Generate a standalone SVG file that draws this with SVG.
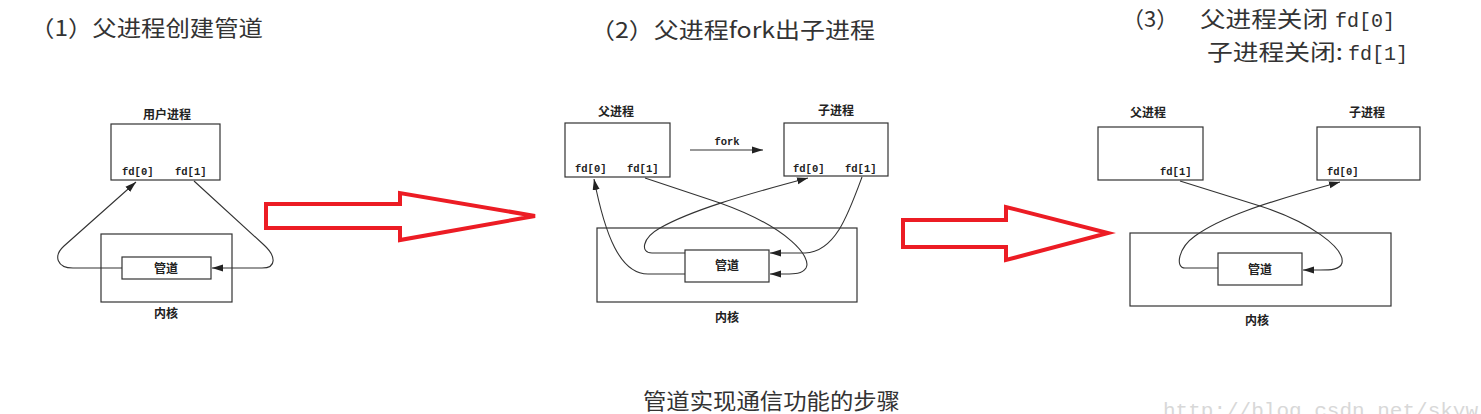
<svg xmlns="http://www.w3.org/2000/svg" width="1481" height="414" viewBox="0 0 1481 414">
<style>
.title{font-family:"Noto Sans CJK SC","Noto Sans",sans-serif;font-size:22px;fill:#333}
.mono{font-family:"Liberation Mono",monospace;font-size:20px;fill:#333}
.lbl{font-family:"Noto Sans CJK SC",sans-serif;font-size:12px;fill:#222;text-anchor:middle;font-weight:bold}
.fd{font-family:"Liberation Mono",monospace;font-size:10.5px;fill:#222;font-weight:bold}
.box{fill:none;stroke:#333;stroke-width:1.2}
.wire{fill:none;stroke:#333;stroke-width:1.1}
.red{fill:none;stroke:#ec1c24;stroke-width:4;stroke-linejoin:miter}
.wm{font-family:"Liberation Mono",monospace;font-size:21px;fill:#d8d8d8}
</style>
<defs>
<marker id="ah" markerUnits="userSpaceOnUse" markerWidth="12" markerHeight="8" refX="11" refY="4" orient="auto">
<path d="M0,0.5 L11,4 L0,7.5 z" fill="#222"/>
</marker>
</defs>

<text class="title" x="30" y="36" textLength="233" lengthAdjust="spacingAndGlyphs">（1）父进程创建管道</text>
<text class="title" x="590" y="38" textLength="285" lengthAdjust="spacingAndGlyphs">（2）父进程fork出子进程</text>
<text class="title" x="1122" y="27">（3）</text>
<text class="title" x="1200" y="27" textLength="128" lengthAdjust="spacingAndGlyphs">父进程关闭</text>
<text class="mono" x="1335" y="27" textLength="60" lengthAdjust="spacingAndGlyphs">fd[0]</text>
<text class="title" x="1207" y="60" textLength="136" lengthAdjust="spacingAndGlyphs">子进程关闭:</text>
<text class="mono" x="1348" y="60" textLength="60" lengthAdjust="spacingAndGlyphs">fd[1]</text>
<text class="title" x="643" y="409" textLength="257" lengthAdjust="spacingAndGlyphs">管道实现通信功能的步骤</text>
<text class="wm" x="1163" y="417">http://blog.csdn.net/skyw</text>

<!-- Diagram 1 -->
<g id="user-process">
<text class="lbl" x="167" y="119">用户进程</text>
<rect class="box" x="111" y="124" width="109" height="56"/>
<text class="fd" x="122" y="175">fd[0]</text>
<text class="fd" x="175" y="175">fd[1]</text>
</g>
<g id="kernel1">
<rect class="box" x="101" y="234" width="131" height="68"/>
<text class="lbl" x="166" y="318">内核</text>
</g>
<g id="pipe1">
<rect class="box" x="122" y="257" width="89" height="22"/>
<text class="lbl" x="166" y="273">管道</text>
</g>

<!-- Diagram 2 -->
<g id="parent2">
<text class="lbl" x="616" y="116">父进程</text>
<rect class="box" x="565" y="123" width="105" height="54"/>
<text class="fd" x="575" y="172">fd[0]</text>
<text class="fd" x="627" y="172">fd[1]</text>
</g>
<g id="child2">
<text class="lbl" x="836" y="115">子进程</text>
<rect class="box" x="784" y="123" width="104" height="53"/>
<text class="fd" x="793" y="172">fd[0]</text>
<text class="fd" x="845" y="172">fd[1]</text>
</g>
<g id="kernel2">
<rect class="box" x="597" y="228" width="260" height="74"/>
<text class="lbl" x="727" y="322">内核</text>
</g>
<g id="pipe2">
<rect class="box" x="685" y="250" width="84" height="32"/>
<text class="lbl" x="727" y="270">管道</text>
</g>
<g id="fork-label">
<text class="fd" x="727" y="145" text-anchor="middle" font-size="11">fork</text>
</g>

<!-- Diagram 3 -->
<g id="parent3">
<text class="lbl" x="1148" y="117">父进程</text>
<rect class="box" x="1098" y="127" width="105" height="53"/>
<text class="fd" x="1160" y="175">fd[1]</text>
</g>
<g id="child3">
<text class="lbl" x="1367" y="117">子进程</text>
<rect class="box" x="1317" y="127" width="103" height="53"/>
<text class="fd" x="1327" y="175">fd[0]</text>
</g>
<g id="kernel3">
<rect class="box" x="1130" y="233" width="261" height="73"/>
<text class="lbl" x="1257" y="325">内核</text>
</g>
<g id="pipe3">
<rect class="box" x="1218" y="253" width="84" height="32"/>
<text class="lbl" x="1260" y="274">管道</text>
</g>

<!-- big red arrows -->
<g id="step-arrow-1">
<path class="red" d="M266,204 L400,204 L400,193 L535,216 L400,240 L400,228 L266,228 Z"/>
</g>
<g id="step-arrow-2">
<path class="red" d="M903,220 L1006,220 L1006,207 L1108,233 L1006,260 L1006,247 L903,247 Z"/>
</g>

<g id="connectors">
<!-- diagram 1 -->
<path class="wire" marker-end="url(#ah)" d="M122,268 L73,268 C57,268 53,256 64,246 L136,182"/>
<path class="wire" marker-end="url(#ah)" d="M194,181 L264,245 C276,256 277,268 262,268 L212,268"/>
<!-- diagram 2 -->
<path class="wire" marker-end="url(#ah)" d="M690,150 L763,150"/>
<path class="wire" marker-end="url(#ah)" d="M685,274 L648,274 C620,274 605,235 594,179"/>
<path class="wire" marker-end="url(#ah)" d="M645,178 L720,203 C790,228 812,258 806,268 C802,274 795,274 785,274 L770,274"/>
<path class="wire" marker-end="url(#ah)" d="M685,253 L652,253 C640,253 642,238 660,228 C690,211 740,196 808,178"/>
<path class="wire" marker-end="url(#ah)" d="M862,177 C848,215 835,252 805,253 L770,253"/>
<!-- diagram 3 -->
<path class="wire" marker-end="url(#ah)" d="M1180,181 L1260,206 C1310,222 1345,248 1342,263 C1340,270 1330,270 1320,270 L1303,270"/>
<path class="wire" marker-end="url(#ah)" d="M1218,268 L1185,268 C1175,268 1178,248 1195,236 C1220,218 1260,204 1340,182"/>
</g>
</svg>
